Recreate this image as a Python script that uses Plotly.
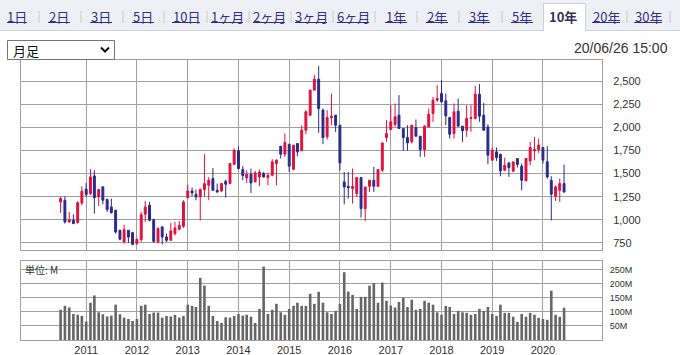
import pandas as pd
import plotly.graph_objects as go

months = pd.date_range("2010-07-01", periods=120, freq="MS")

opens = [1194, 1212, 977, 995, 970, 1183, 1331, 1284, 1475, 1248,
         1356, 1219, 1140, 1104, 887, 761, 887, 862, 743, 786,
         1060, 1158, 1002, 761, 923, 815, 779, 851, 898, 930,
         1240, 1313, 1277, 1248, 1327, 1374, 1446, 1320, 1313, 1417,
         1392, 1601, 1746, 1544, 1453, 1493, 1410, 1464, 1500, 1457,
         1482, 1609, 1796, 1710, 1818, 1547, 1825, 1746, 1969, 2132,
         2402, 2521, 2186, 1897, 2103, 2132, 2023, 1410, 1363, 1338,
         1284, 1457, 1121, 1363, 1428, 1363, 1536, 1890, 1977, 2031,
         2132, 1987, 1890, 1843, 1998, 1904, 1760, 2005, 2150, 2294,
         2366, 2287, 2106, 1933, 2175, 2013, 1969, 2096, 2096, 2359,
         2132, 2005, 1645, 1735, 1710, 1536, 1616, 1526, 1663, 1580,
         1421, 1637, 1746, 1760, 1782, 1627, 1428, 1255, 1320, 1392]
highs = [1248, 1255, 1085, 1060, 1201, 1363, 1399, 1547, 1536, 1330,
         1363, 1230, 1230, 1104, 894, 948, 887, 869, 797, 1085,
         1204, 1194, 1013, 923, 934, 851, 966, 977, 988, 1212,
         1381, 1349, 1327, 1338, 1710, 1464, 1561, 1392, 1399, 1435,
         1616, 1771, 1796, 1580, 1536, 1554, 1529, 1544, 1518, 1508,
         1655, 1655, 1796, 1933, 1818, 1807, 1825, 2023, 2186, 2410,
         2565, 2662, 2204, 2186, 2366, 2132, 2023, 1518, 1518, 1554,
         1457, 1457, 1356, 1428, 1572, 1544, 1832, 2078, 2240, 2258,
         2348, 1987, 2023, 2023, 2085, 1904, 2023, 2204, 2330, 2456,
         2511, 2366, 2114, 2258, 2312, 2013, 2240, 2240, 2446, 2467,
         2265, 2034, 1782, 1782, 1710, 1673, 1616, 1627, 1663, 1609,
         1663, 1843, 1897, 1879, 1782, 1796, 1471, 1374, 1446, 1598]
lows = [1075, 959, 970, 955, 959, 1158, 1248, 1266, 1067, 1150,
        1168, 1085, 1067, 851, 779, 743, 750, 725, 732, 761,
        977, 984, 750, 743, 735, 761, 775, 833, 887, 912,
        1230, 1255, 1212, 995, 1248, 1212, 1313, 1291, 1302, 1240,
        1385, 1590, 1544, 1428, 1399, 1291, 1410, 1363, 1457, 1374,
        1471, 1374, 1663, 1681, 1518, 1536, 1688, 1746, 1926, 2121,
        2402, 1941, 1818, 1868, 2023, 1951, 1536, 1168, 1230, 1176,
        1248, 1024, 988, 1302, 1302, 1356, 1518, 1843, 1969, 2005,
        1987, 1746, 1746, 1825, 1904, 1681, 1681, 1998, 2060, 2276,
        2265, 2023, 1879, 1879, 2005, 1843, 1897, 1951, 2085, 2060,
        1962, 1601, 1637, 1637, 1471, 1526, 1464, 1518, 1565, 1320,
        1421, 1590, 1645, 1724, 1609, 1446, 995, 1204, 1194, 1291]
closes = [1230, 977, 1002, 959, 1186, 1309, 1273, 1464, 1240, 1327,
          1212, 1111, 1078, 869, 790, 894, 815, 735, 790, 1056,
          1140, 995, 768, 905, 815, 779, 880, 912, 941, 1194,
          1313, 1291, 1248, 1327, 1392, 1428, 1320, 1302, 1392, 1385,
          1609, 1753, 1554, 1479, 1493, 1399, 1508, 1518, 1464, 1482,
          1627, 1645, 1710, 1836, 1580, 1807, 1735, 1969, 2168, 2402,
          2521, 2204, 1890, 2106, 2121, 2023, 1616, 1356, 1345, 1363,
          1457, 1121, 1356, 1428, 1363, 1544, 1832, 1933, 2060, 2114,
          1987, 1890, 1832, 2023, 1904, 1760, 2013, 2142, 2294, 2312,
          2276, 2124, 1926, 2168, 2013, 1962, 2096, 2106, 2359, 2121,
          1969, 1699, 1753, 1673, 1529, 1590, 1565, 1627, 1598, 1428,
          1663, 1782, 1760, 1807, 1645, 1464, 1277, 1356, 1392, 1302]
volumes_m = [108, 122, 116, 93, 90, 86, 66, 133, 159, 99,
             92, 84, 87, 126, 92, 80, 75, 68, 75, 122,
             126, 93, 98, 98, 80, 86, 84, 90, 80, 86,
             126, 122, 118, 222, 194, 122, 86, 68, 61, 81,
             80, 86, 93, 87, 90, 83, 61, 111, 262, 93,
             108, 129, 99, 90, 111, 122, 133, 122, 122, 165,
             129, 172, 133, 99, 93, 104, 129, 242, 173, 161,
             111, 154, 154, 194, 203, 133, 205, 140, 123, 116,
             136, 151, 118, 144, 108, 111, 140, 133, 126, 99,
             90, 122, 118, 93, 104, 99, 97, 90, 93, 111,
             104, 118, 93, 86, 126, 97, 97, 83, 65, 93,
             83, 97, 90, 79, 75, 72, 176, 90, 83, 115]

price_ticks = [750, 1000, 1250, 1500, 1750, 2000, 2250, 2500]
vol_ticks = [50, 100, 150, 200, 250]
vol_tick_text = ["50M", "100M", "150M", "200M", "250M"]
year_ticks = ["2011-01-01", "2012-01-01", "2013-01-01", "2014-01-01", "2015-01-01",
              "2016-01-01", "2017-01-01", "2018-01-01", "2019-01-01", "2020-01-01"]
year_text = ["2011", "2012", "2013", "2014", "2015", "2016", "2017", "2018", "2019", "2020"]
tab_labels = ["1日", "2日", "3日", "5日", "10日", "1ヶ月", "2ヶ月", "3ヶ月", "6ヶ月",
              "1年", "2年", "3年", "5年", "10年", "20年", "30年"]
active_tab = "10年"
timestamp = "20/06/26 15:00"
period_choice = "月足"
unit_label = "単位: M"

W, H = 680, 355
def px(x):
    return x / W
def py(y):
    return 1 - y / H

RED = "#e0103c"
BLUE = "#2a2a8a"
GRID = "#a0a0a0"
TXT = "#333333"
LINK = "#2f2f85"
NUM_FONT = "Liberation Sans, Arial, sans-serif"
JP_FONT = "Noto Sans CJK JP, sans-serif"

fig = go.Figure()
fig.add_trace(go.Candlestick(
    x=months, open=opens, high=highs, low=lows, close=closes,
    increasing=dict(line=dict(color=RED, width=1), fillcolor=RED),
    decreasing=dict(line=dict(color=BLUE, width=1), fillcolor=BLUE),
    whiskerwidth=0, xaxis="x", yaxis="y", showlegend=False, hoverinfo="skip"))
fig.add_trace(go.Bar(
    x=months, y=volumes_m, marker=dict(color="#666666", line=dict(width=0)),
    xaxis="x2", yaxis="y2", showlegend=False, hoverinfo="skip"))

xrange = ["2009-09-19", "2021-03-01"]
xdom = [px(21), px(602)]
common_x = dict(type="date", range=xrange, domain=xdom, tickmode="array",
                tickvals=year_ticks, ticktext=year_text,
                showgrid=True, gridcolor=GRID, gridwidth=1, showline=True, linecolor=GRID,
                linewidth=1, mirror=True, zeroline=False, ticks="", fixedrange=True)
fig.update_layout(
    width=W, height=H, margin=dict(l=0, r=0, t=0, b=0, pad=0),
    paper_bgcolor="white", plot_bgcolor="white", showlegend=False,
    bargap=0.33,
    xaxis=dict(common_x, anchor="y", showticklabels=False, rangeslider=dict(visible=False)),
    xaxis2=dict(common_x, anchor="y2", showticklabels=True,
                tickfont=dict(family=NUM_FONT, size=11, color=TXT), ticklabelstandoff=0),
    yaxis=dict(domain=[py(250), py(60)], range=[674, 2728], side="right", anchor="x",
               tickvals=price_ticks, tickformat=",d", showgrid=True, gridcolor=GRID,
               showline=True, linecolor=GRID, mirror=True, zeroline=False, ticks="",
               ticklabelstandoff=8, tickfont=dict(family=NUM_FONT, size=11, color=TXT)),
    yaxis2=dict(domain=[py(340), py(261)], range=[0, 282], side="right", anchor="x2",
                tickvals=vol_ticks, ticktext=vol_tick_text, showgrid=True, gridcolor=GRID,
                showline=True, linecolor=GRID, mirror=True, zeroline=False, ticks="",
                ticklabelstandoff=5, tickfont=dict(family=NUM_FONT, size=9, color=TXT)),
)

shapes = []
annotations = []
# tab bar background
shapes.append(dict(type="rect", xref="paper", yref="paper", x0=0, x1=1, y0=py(30), y1=1,
                   fillcolor="#eff0f5", line=dict(width=0), layer="below"))
shapes.append(dict(type="line", xref="paper", yref="paper", x0=0, x1=1, y0=py(30.5), y1=py(30.5),
                   line=dict(color="#cfd0dc", width=1)))
tab_centers = [17, 59, 101, 143, 186, 227, 269, 311, 353, 396, 437, 479, 522, 563, 606, 648]
tab_halfw = [10, 11, 11, 11, 14, 16, 16, 16, 16, 11, 11, 11, 11, 14, 14, 14]
seps = [39, 81, 123, 164, 207, 249, 291, 333, 375, 417, 459, 502, 627, 670]
for sx in seps:
    shapes.append(dict(type="line", xref="paper", yref="paper", x0=px(sx), x1=px(sx),
                       y0=py(11), y1=py(23), line=dict(color="#cccccc", width=1)))
for lab, cx, hw in zip(tab_labels, tab_centers, tab_halfw):
    if lab == active_tab:
        shapes.append(dict(type="rect", xref="paper", yref="paper", x0=px(543.5), x1=px(585.5),
                           y0=py(31), y1=py(3.5), fillcolor="white",
                           line=dict(color="#cfd0dc", width=1)))
        shapes.append(dict(type="line", xref="paper", yref="paper", x0=px(544), x1=px(585),
                           y0=py(31), y1=py(31), line=dict(color="white", width=2)))
        annotations.append(dict(text="<b>%s</b>" % lab, x=px(cx), y=py(16.5), xref="paper",
                                yref="paper", showarrow=False, xanchor="center", yanchor="middle",
                                font=dict(family=JP_FONT, size=13, color="#333355")))
    else:
        annotations.append(dict(text=lab, x=px(cx), y=py(16.5), xref="paper", yref="paper",
                                showarrow=False, xanchor="center", yanchor="middle",
                                font=dict(family=JP_FONT, size=13, color=LINK)))
        shapes.append(dict(type="line", xref="paper", yref="paper", x0=px(cx - hw), x1=px(cx + hw),
                           y0=py(22.5), y1=py(22.5), line=dict(color=LINK, width=1)))

# dropdown
shapes.append(dict(type="rect", xref="paper", yref="paper", x0=px(7.5), x1=px(114.5),
                   y0=py(59.5), y1=py(40.5), fillcolor="white", line=dict(color="#767676", width=1)))
shapes.append(dict(type="path", xref="paper", yref="paper",
                   path="M %f %f L %f %f L %f %f" % (px(101), py(47.5), px(105), py(51.5), px(109), py(47.5)),
                   line=dict(color="#111111", width=2)))
annotations.append(dict(text=period_choice, x=px(11), y=py(50.5), xref="paper", yref="paper",
                        showarrow=False, xanchor="left", yanchor="middle",
                        font=dict(family=JP_FONT, size=13, color="#111111")))
annotations.append(dict(text=timestamp, x=px(670), y=py(48), xref="paper", yref="paper",
                        showarrow=False, xanchor="right", yanchor="middle",
                        font=dict(family=NUM_FONT, size=14, color=TXT)))
annotations.append(dict(text=unit_label, x=px(23), y=py(269.5), xref="paper", yref="paper",
                        showarrow=False, xanchor="left", yanchor="middle",
                        font=dict(family=JP_FONT, size=10, color=TXT)))

fig.update_layout(shapes=shapes, annotations=annotations)
fig.write_html("out.html")
